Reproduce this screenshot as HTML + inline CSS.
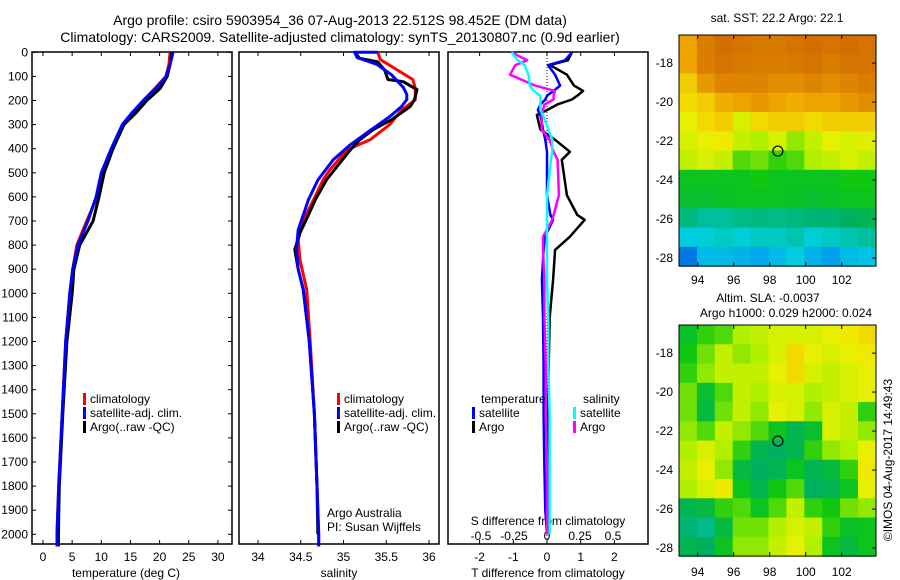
<!DOCTYPE html>
<html><head><meta charset="utf-8">
<style>
html,body{margin:0;padding:0;background:#fff;}
svg{display:block;font-family:"Liberation Sans",sans-serif;}
text{fill:#000;font-size:12px;}
</style></head>
<body>
<svg id="fig" width="900" height="580" viewBox="0 0 900 580">
<text x="340" y="25" text-anchor="middle" style="font-size:14px">Argo profile: csiro 5903954_36 07-Aug-2013 22.512S 98.452E (DM data)</text>
<text x="340" y="42" text-anchor="middle" style="font-size:14px">Climatology: CARS2009. Satellite-adjusted climatology: synTS_20130807.nc (0.9d earlier)</text>
<g id="g"></g>
</svg>
<script>
// ---- data ----
const depthTicks=[0,100,200,300,400,500,600,700,800,900,1000,1100,1200,1300,1400,1500,1600,1700,1800,1900,2000];
const tempTicks=[0,5,10,15,20,25,30];
const salTicks=[34,34.5,35,35.5,36];
const tdiffTicks=[-2,-1,0,1,2];
const sdiffTicks=[-0.5,-0.25,0,0.25,0.5];
const sdiffLabels=["-0.5","-0.25","0","0.25","0.5"];
const latTicks=[-18,-20,-22,-24,-26,-28];
const lonTicks=[94,96,98,100,102];

const tDepth=[0,50,100,150,200,250,300,400,500,600,700,800,900,1000,1200,1500,1800,2000,2050];
const tempClim=[21.8,21.6,21.1,19.2,17.2,15.4,13.7,11.8,10.1,9.3,7.5,5.8,5.1,4.6,3.9,3.3,2.7,2.4,2.4];
const tempSat=[22.3,21.8,21.1,19.4,17.2,15.3,13.6,11.7,10.0,9.1,7.7,6.0,5.1,4.6,3.9,3.3,2.7,2.4,2.4];
const tempArgo=[22.1,21.8,21.3,20.1,17.8,16.0,13.9,12.0,10.5,9.6,8.6,6.3,5.3,5.0,4.1,3.4,2.8,2.65,2.65];

const sClimDepth=[0,30,113,150,197,240,300,363,405,488,530,612,695,778,860,985,1200,1500,1800,2000,2050];
const salClim=[35.40,35.43,35.81,35.84,35.84,35.68,35.54,35.31,35.04,34.84,34.76,34.65,34.53,34.47,34.49,34.57,34.61,34.66,34.69,34.71,34.71];
const sSatDepth=[0,0,22,50,93,146,175,196,225,267,320,384,446,530,612,737,818,900,985,1200,1500,1800,2000,2050];
const salSat=[35.40,35.13,35.16,35.39,35.56,35.70,35.74,35.74,35.68,35.54,35.33,35.08,34.88,34.70,34.59,34.47,34.45,34.47,34.53,34.60,34.66,34.69,34.71,34.71];
const sArgoDepth=[0,25,40,73,113,122,155,196,225,280,320,363,405,467,530,612,675,750,818,901,985,1200,1500,1800,2000];
const salArgo=[35.13,35.19,35.40,35.48,35.52,35.70,35.86,35.83,35.78,35.56,35.35,35.19,35.08,34.94,34.80,34.67,34.59,34.49,34.43,34.47,34.53,34.60,34.66,34.69,34.70];

const dDepth=[0,33,53,93,138,160,180,196,217,240,260,320,363,413,446,593,675,695,765,820,943,1100,1300,1500,1700,1900,2000];
const tdiffArgo=[0.74,0.62,0.09,0.59,0.8,1.07,0.9,0.74,0.3,0.0,-0.3,-0.2,0.24,0.68,0.44,0.59,0.9,1.12,0.68,0.24,0.18,0.08,0.05,0.04,0.05,0.06,0.05];
const tdiffSat=[0.74,0.53,0.03,0.24,0.39,0.2,0.0,-0.05,-0.2,-0.27,-0.2,-0.12,-0.05,0.0,0.0,0.0,0.1,0.18,-0.06,-0.1,-0.15,-0.12,-0.1,-0.1,-0.08,-0.05,0.0];
const sdiffArgo=[-0.27,-0.15,-0.24,-0.28,-0.09,0.06,0.05,0.05,-0.02,-0.03,-0.04,-0.04,0.02,0.05,0.08,0.09,0.05,0.04,-0.03,-0.03,-0.02,-0.02,-0.01,-0.01,0.0,0.0,0.0];
const sdiffSat=[-0.27,-0.22,-0.17,-0.14,-0.13,-0.1,-0.05,-0.05,-0.05,-0.05,-0.03,0.01,0.04,0.04,0.03,0.0,0.0,0.0,0.0,0.0,0.0,0.01,0.01,0.02,0.02,0.02,0.02];

const sstGrid=[
[0.86,0.93,0.96,0.95,0.94,0.94,0.95,0.96,0.95,0.96,0.95],
[0.86,0.93,0.95,0.94,0.93,0.93,0.94,0.95,0.93,0.95,0.95],
[0.80,0.88,0.92,0.92,0.92,0.90,0.90,0.92,0.90,0.92,0.93],
[0.78,0.80,0.84,0.86,0.88,0.86,0.84,0.86,0.86,0.88,0.90],
[0.74,0.78,0.80,0.72,0.78,0.80,0.80,0.78,0.80,0.80,0.80],
[0.72,0.74,0.76,0.70,0.68,0.72,0.66,0.70,0.74,0.72,0.73],
[0.70,0.72,0.70,0.62,0.64,0.60,0.62,0.68,0.70,0.72,0.70],
[0.56,0.56,0.56,0.56,0.58,0.56,0.56,0.56,0.56,0.58,0.58],
[0.54,0.54,0.55,0.56,0.56,0.56,0.55,0.54,0.55,0.56,0.56],
[0.45,0.42,0.42,0.44,0.45,0.44,0.45,0.46,0.46,0.48,0.50],
[0.34,0.36,0.38,0.36,0.38,0.38,0.40,0.36,0.38,0.40,0.42],
[0.15,0.30,0.30,0.28,0.26,0.30,0.34,0.28,0.24,0.30,0.32]];
const slaGrid=[
[0.55,0.60,0.62,0.68,0.70,0.72,0.72,0.72,0.74,0.76,0.78],
[0.58,0.64,0.70,0.66,0.68,0.72,0.78,0.74,0.72,0.74,0.76],
[0.60,0.66,0.70,0.70,0.70,0.74,0.78,0.72,0.70,0.72,0.74],
[0.64,0.54,0.62,0.70,0.68,0.72,0.72,0.68,0.70,0.72,0.74],
[0.64,0.52,0.64,0.70,0.66,0.74,0.72,0.66,0.72,0.70,0.60],
[0.66,0.62,0.70,0.66,0.62,0.56,0.50,0.54,0.72,0.70,0.66],
[0.68,0.72,0.68,0.60,0.50,0.48,0.50,0.60,0.66,0.68,0.74],
[0.70,0.74,0.66,0.52,0.48,0.50,0.56,0.50,0.52,0.60,0.76],
[0.68,0.72,0.76,0.56,0.50,0.58,0.62,0.48,0.50,0.56,0.74],
[0.50,0.52,0.60,0.62,0.56,0.62,0.70,0.60,0.58,0.64,0.66],
[0.46,0.44,0.52,0.64,0.64,0.68,0.72,0.70,0.60,0.55,0.56],
[0.50,0.48,0.56,0.66,0.66,0.70,0.74,0.68,0.56,0.52,0.56]];
const argoLon=98.452, argoLat=-22.512;

// ---- helpers ----
const NS="http://www.w3.org/2000/svg";
const G=document.getElementById('g');
function mk(tag,attrs,parent){const e=document.createElementNS(NS,tag);for(const k in attrs)e.setAttribute(k,attrs[k]);(parent||G).appendChild(e);return e;}
const yD=d=>52.3+d*0.2410;
const xT=t=>43+t*5.83;
const xS=s=>258+(s-34)*85.5;
const xTD=v=>547+v*33.7;
const xSD=v=>547+v*132;

function frame(x0,x1,name){
  const r=mk('rect',{x:x0,y:52,width:x1-x0,height:492,fill:'none',stroke:'#000','stroke-width':1.5});
  
  
}
function line(xs,ds,xf,color,name,w){
  const pts=xs.map((v,i)=>xf(v).toFixed(1)+','+yD(ds[i]).toFixed(1)).join(' ');
  const p=mk('polyline',{points:pts,fill:'none',stroke:color,'stroke-width':w||3,'stroke-linejoin':'round'});
  
  
}
function legend(x,y,items,name){
  items.forEach((it,i)=>{
    const r=mk('rect',{x:x,y:y+i*14-10,width:3,height:12,fill:it[1]});
    
    
    const t=mk('text',{x:x+7,y:y+i*14});t.textContent=it[0];
    
    
  });
}

// ---- panel 1: temperature ----
frame(32,232,'temperature-plot-frame');
depthTicks.forEach(d=>{
  const y=yD(d);
  mk('line',{x1:32,y1:y,x2:36,y2:y,stroke:'#000'});
  mk('line',{x1:228,y1:y,x2:232,y2:y,stroke:'#000'});
  const t=mk('text',{x:28,y:y+4,'text-anchor':'end'});t.textContent=d;
  
  
});
tempTicks.forEach(v=>{
  const x=xT(v);
  mk('line',{x1:x,y1:52,x2:x,y2:56,stroke:'#000'});
  mk('line',{x1:x,y1:540,x2:x,y2:544,stroke:'#000'});
  const t=mk('text',{x:x,y:561,'text-anchor':'middle'});t.textContent=v;
  
  
});
{const t=mk('text',{x:126,y:577,'text-anchor':'middle'});t.textContent='temperature (deg C)';

}
line(tempClim,tDepth,xT,'#ff0000','temperature-climatology-line');
line(tempArgo,tDepth,xT,'#000000','temperature-argo-line');
line(tempSat,tDepth,xT,'#0000ff','temperature-satellite-line');
legend(83,403,[['climatology','#ff0000'],['satellite-adj. clim.','#0000ff'],['Argo(..raw -QC)','#000000']],'temperature-legend');

// ---- panel 2: salinity ----
frame(239,439,'salinity-plot-frame');
salTicks.forEach(v=>{
  const x=xS(v);
  mk('line',{x1:x,y1:52,x2:x,y2:56,stroke:'#000'});
  mk('line',{x1:x,y1:540,x2:x,y2:544,stroke:'#000'});
  const t=mk('text',{x:x,y:561,'text-anchor':'middle'});t.textContent=v;
  
  
});
{const t=mk('text',{x:339,y:577,'text-anchor':'middle'});t.textContent='salinity';

}
line(salClim,sClimDepth,xS,'#ff0000','salinity-climatology-line');
line(salArgo,sArgoDepth,xS,'#000000','salinity-argo-line');
line(salSat,sSatDepth,xS,'#0000ff','salinity-satellite-line');
legend(337,403,[['climatology','#ff0000'],['satellite-adj. clim.','#0000ff'],['Argo(..raw -QC)','#000000']],'salinity-legend');
{const t=mk('text',{x:327,y:517});t.textContent='Argo Australia';

const t2=mk('text',{x:327,y:531});t2.textContent='PI: Susan Wijffels';
}

// ---- panel 3: differences ----
frame(448,648,'difference-plot-frame');
mk('line',{x1:547,y1:52,x2:547,y2:544,stroke:'#000','stroke-dasharray':'1,2'});
tdiffTicks.forEach(v=>{
  const x=xTD(v);
  mk('line',{x1:x,y1:52,x2:x,y2:56,stroke:'#000'});
  mk('line',{x1:x,y1:540,x2:x,y2:544,stroke:'#000'});
  const t=mk('text',{x:x,y:561,'text-anchor':'middle'});t.textContent=v;
  
  
});
sdiffTicks.forEach((v,i)=>{
  const t=mk('text',{x:xSD(v),y:540,'text-anchor':'middle'});t.textContent=sdiffLabels[i];
  
  
});
{const t=mk('text',{x:548,y:525,'text-anchor':'middle'});t.textContent='S difference from climatology';

const t2=mk('text',{x:548,y:577,'text-anchor':'middle'});t2.textContent='T difference from climatology';
}
line(tdiffArgo,dDepth,xTD,'#000000','tdiff-argo-line',2.5);
line(tdiffSat,dDepth,xTD,'#0000ff','tdiff-satellite-line',2.5);
line(sdiffArgo,dDepth,xSD,'#ff00ff','sdiff-argo-line',2.5);
line(sdiffSat,dDepth,xSD,'#00ffff','sdiff-satellite-line',2.5);
{const t=mk('text',{x:481,y:403});t.textContent='temperature';

const t2=mk('text',{x:583,y:403});t2.textContent='salinity';
}
legend(472,417,[['satellite','#0000ff'],['Argo','#000000']],'tdiff-legend');
legend(573,417,[['satellite','#00ffff'],['Argo','#ff00ff']],'sdiff-legend');

// ---- maps ----
const stops=[[0,[0,48,192]],[0.2,[0,144,240]],[0.35,[0,208,224]],[0.48,[0,176,96]],[0.58,[16,200,16]],[0.68,[176,240,0]],[0.75,[240,240,0]],[0.85,[240,168,0]],[1,[200,90,0]]];
function cmap(v){for(let i=1;i<stops.length;i++){if(v<=stops[i][0]){const a=stops[i-1],b=stops[i],f=(v-a[0])/(b[0]-a[0]);return 'rgb('+a[1].map((c,k)=>Math.round(c+(b[1][k]-c)*f)).join(',')+')';}}return 'rgb(200,90,0)';}
function drawMap(grid,top,name){
  const lon0=92.96,lon1=103.9,lat0=-16.56,lat1=-28.41;
  const xL=lo=>679+(lo-lon0)*18.0;
  const yL=la=>top+(lat0-la)*19.5;
  const ny=grid.length,nx=grid[0].length;
  const dlo=(lon1-lon0)/nx,dla=(lat0-lat1)/ny;
  grid.forEach((row,r)=>row.forEach((v,c)=>{
    const x=xL(lon0+c*dlo),y=yL(lat0-r*dla);
    const cell=mk('rect',{x:x.toFixed(2),y:y.toFixed(2),width:(dlo*18+0.6).toFixed(2),height:(dla*19.5+0.6).toFixed(2),fill:cmap(v)});
    
    
  }));
  const W=876-679,H=yL(lat1)-top;
  const fr=mk('rect',{x:679,y:top,width:W,height:H,fill:'none',stroke:'#000'});
  
  
  latTicks.forEach(la=>{
    const y=yL(la);
    mk('line',{x1:872,y1:y,x2:876,y2:y,stroke:'#000'});
    const t=mk('text',{x:673,y:y+4,'text-anchor':'end'});t.textContent=la;
    
    
  });
  lonTicks.forEach(lo=>{
    const x=xL(lo);
    mk('line',{x1:x,y1:top,x2:x,y2:top+4,stroke:'#000'});
    mk('line',{x1:x,y1:top+H-4,x2:x,y2:top+H,stroke:'#000'});
  });
  const c=mk('circle',{cx:xL(argoLon),cy:yL(argoLat),r:5,fill:'none',stroke:'#000','stroke-width':1.2});
  
  
  return yL(lat1);
}
const b1=drawMap(sstGrid,35,'sst-map');
lonTicks.forEach(lo=>{const t=mk('text',{x:679+(lo-92.96)*18,y:284,'text-anchor':'middle'});t.textContent=lo;
});
const b2=drawMap(slaGrid,325,'sla-map');
lonTicks.forEach(lo=>{const t=mk('text',{x:679+(lo-92.96)*18,y:576,'text-anchor':'middle'});t.textContent=lo;
});
{const t=mk('text',{x:777,y:22,'text-anchor':'middle'});t.textContent='sat. SST: 22.2 Argo: 22.1';

const t2=mk('text',{x:768,y:302,'text-anchor':'middle'});t2.textContent='Altim. SLA: -0.0037';

const t3=mk('text',{x:786,y:317,'text-anchor':'middle'});t3.textContent='Argo h1000: 0.029 h2000: 0.024';

const t4=mk('text',{x:892,y:460,'text-anchor':'middle',transform:'rotate(-90 892 460)'});t4.textContent='©IMOS 04-Aug-2017 14:49:43';
}
</script>
</body></html>
